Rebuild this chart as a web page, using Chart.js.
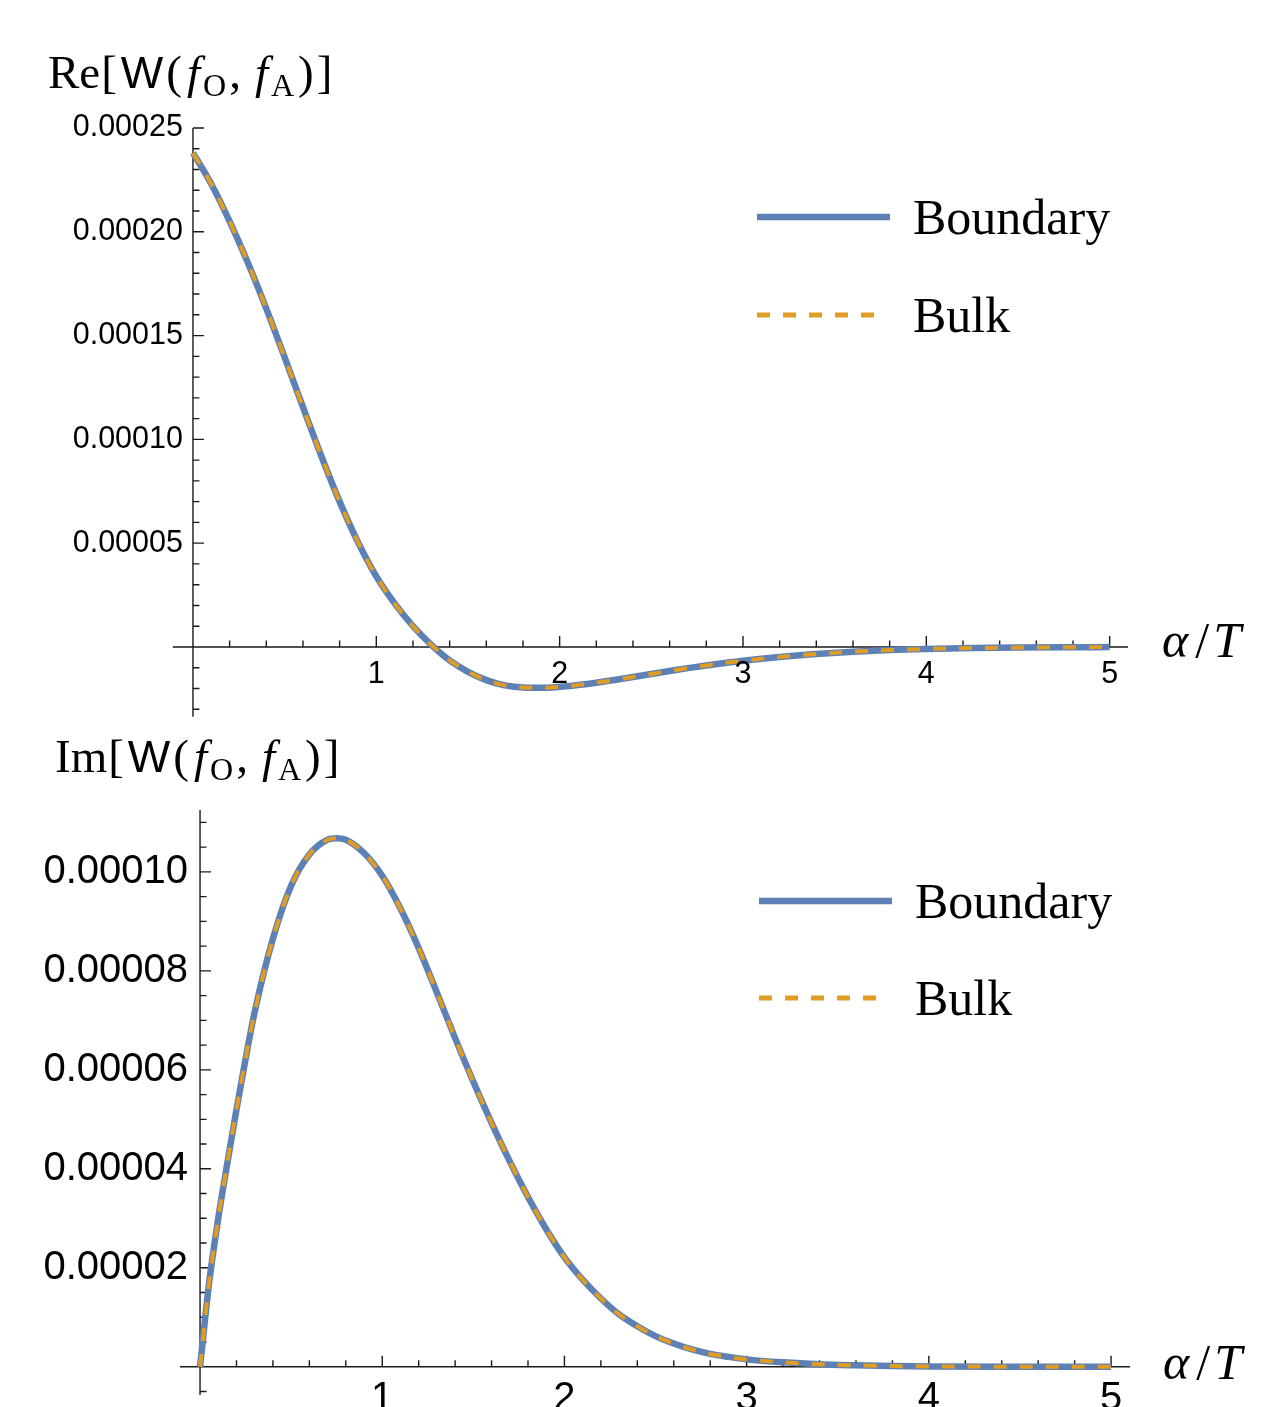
<!DOCTYPE html>
<html>
<head>
<meta charset="utf-8">
<title>Re / Im W(fO, fA)</title>
<script src="https://cdn.jsdelivr.net/npm/chart.js@4.4.1/dist/chart.umd.min.js"></script>
<style>
  html, body { margin: 0; padding: 0; background: #fff; }
  body { width: 1267px; height: 1407px; position: relative; overflow: hidden; }
  canvas { position: absolute; left: 0; }
  #reChart { top: 0; }
  #imChart { top: 720px; }
</style>
</head>
<body>
<canvas id="reChart" width="1267" height="730"></canvas>
<canvas id="imChart" width="1267" height="687"></canvas>
<script>
// ---------- data ----------
const reX = [0, 0.1, 0.2, 0.3, 0.4, 0.5, 0.6, 0.7, 0.8, 0.9, 1.0, 1.1, 1.2, 1.3, 1.4, 1.5, 1.6, 1.7, 1.8, 1.9,
             2.0, 2.1, 2.2, 2.3, 2.4, 2.5, 2.6, 2.7, 2.8, 2.9, 3.0, 3.2, 3.4, 3.6, 3.8, 4.0, 4.25, 4.5, 4.75, 5.0];
const reBoundary = [23.8e-5, 22.3e-5, 20.5e-5, 18.5e-5, 16.3e-5, 13.95e-5, 11.55e-5, 9.2e-5, 7.0e-5, 5.05e-5,
                    3.4e-5, 2.1e-5, 1.0e-5, 0.1e-5, -0.65e-5, -1.2e-5, -1.6e-5, -1.85e-5, -1.95e-5, -1.97e-5,
                    -1.92e-5, -1.83e-5, -1.72e-5, -1.59e-5, -1.45e-5, -1.3e-5, -1.16e-5, -1.02e-5, -0.89e-5, -0.77e-5,
                    -0.66e-5, -0.48e-5, -0.34e-5, -0.23e-5, -0.15e-5, -0.1e-5, -0.055e-5, -0.03e-5, -0.015e-5, -0.007e-5];
const reBulk = reBoundary.slice();   // the two curves lie on top of each other

const imX = [0, 0.05, 0.1, 0.15, 0.2, 0.25, 0.3, 0.4, 0.5, 0.6, 0.7, 0.75, 0.8, 0.9, 1.0, 1.1, 1.2, 1.3, 1.4, 1.5,
             1.6, 1.7, 1.8, 1.9, 2.0, 2.1, 2.2, 2.3, 2.4, 2.5, 2.6, 2.7, 2.8, 2.9, 3.0, 3.2, 3.4, 3.6, 3.8, 4.0, 4.5, 5.0];
const imBoundary = [0, 1.7e-5, 3.0e-5, 4.12e-5, 5.2e-5, 6.22e-5, 7.17e-5, 8.65e-5, 9.72e-5, 10.35e-5, 10.65e-5, 10.68e-5,
                    10.65e-5, 10.38e-5, 9.92e-5, 9.26e-5, 8.46e-5, 7.56e-5, 6.64e-5, 5.76e-5,
                    4.93e-5, 4.15e-5, 3.43e-5, 2.78e-5, 2.21e-5, 1.76e-5, 1.38e-5, 1.06e-5, 0.82e-5, 0.62e-5,
                    0.47e-5, 0.35e-5, 0.26e-5, 0.2e-5, 0.15e-5, 0.09e-5, 0.05e-5, 0.03e-5, 0.016e-5, 0.008e-5, 0.002e-5, 0];
const imBulk = imBoundary.slice();

const seriesNames = ["Boundary", "Bulk"];
const xTicks = [1, 2, 3, 4, 5];
const reYTicks = [0.00005, 0.0001, 0.00015, 0.0002, 0.00025];
const reYTickLabels = ["0.00005", "0.00010", "0.00015", "0.00020", "0.00025"];
const imYTicks = [0.00002, 0.00004, 0.00006, 0.00008, 0.0001];
const imYTickLabels = ["0.00002", "0.00004", "0.00006", "0.00008", "0.00010"];

// ---------- look ----------
const BLUE = "#5e81b5";
const ORANGE = "#e19c24";
const SERIF = '"Liberation Serif", "DejaVu Serif", serif';
const SANS = '"Liberation Sans", Arial, sans-serif';

function drawRich(ctx, x, y, parts) {
  for (const p of parts) {
    ctx.font = p.font;
    ctx.fillText(p.t, x, y + (p.dy || 0));
    x += ctx.measureText(p.t).width + (p.kern || 0);
  }
}

function titleParts(prefix, s) {
  const sub = Math.round(s * 0.68);
  return [
    { t: prefix, font: `${s}px ${SERIF}`, kern: 1 },
    { t: "[", font: `${s}px ${SERIF}`, kern: 4 },
    { t: "W", font: `${s - 2}px ${SANS}`, kern: 3 },
    { t: "(", font: `${s}px ${SERIF}`, kern: 5 },
    { t: "f", font: `italic ${s}px ${SERIF}`, kern: 3 },
    { t: "O", font: `${sub}px ${SERIF}`, dy: 8, kern: 3 },
    { t: ",", font: `${s}px ${SERIF}`, kern: 14 },
    { t: "f", font: `italic ${s}px ${SERIF}`, kern: 3 },
    { t: "A", font: `${sub}px ${SERIF}`, dy: 8, kern: 4 },
    { t: ")", font: `${s}px ${SERIF}`, kern: 3 },
    { t: "]", font: `${s}px ${SERIF}` }
  ];
}

// Mathematica style axes: cross at the origin, ticks point inward
const mmaAxes = {
  id: "mmaAxes",
  beforeDatasetsDraw(chart, args, o) {
    const { ctx, chartArea } = chart;
    const xs = chart.scales.x, ys = chart.scales.y;
    const x0 = xs.getPixelForValue(0), y0 = ys.getPixelForValue(0);
    ctx.save();
    ctx.strokeStyle = "#1a1a1a";
    ctx.lineWidth = 1.4;
    ctx.beginPath();
    ctx.moveTo(chartArea.left, y0); ctx.lineTo(chartArea.right, y0);
    ctx.moveTo(x0, chartArea.top); ctx.lineTo(x0, chartArea.bottom);
    // x ticks, minor every 0.2
    for (let i = 1; i <= 25; i++) {
      const px = xs.getPixelForValue(i * 0.2);
      ctx.moveTo(px, y0);
      ctx.lineTo(px, y0 - (i % 5 === 0 ? o.majorLen : o.minorLen));
    }
    // y ticks
    for (let i = -10; i <= 40; i++) {
      const v = i * o.yMinor;
      if (i === 0 || v < ys.min || v > ys.max + 1e-12) continue;
      const py = ys.getPixelForValue(v);
      ctx.moveTo(x0, py);
      ctx.lineTo(x0 + (i % o.yPerMajor === 0 ? o.majorLen : o.minorLen), py);
    }
    ctx.stroke();
    ctx.restore();
  },
  afterDraw(chart, args, o) {
    const { ctx } = chart;
    const xs = chart.scales.x, ys = chart.scales.y;
    const x0 = xs.getPixelForValue(0), y0 = ys.getPixelForValue(0);
    ctx.save();
    ctx.fillStyle = "#000";
    // tick labels
    ctx.font = `${o.tickFont}px ${SANS}`;
    ctx.textAlign = "right";
    ctx.textBaseline = "middle";
    o.yTicks.forEach((v, i) => ctx.fillText(o.yLabels[i], x0 - o.yLabelGap, ys.getPixelForValue(v)));
    ctx.textAlign = "center";
    xTicks.forEach(v => ctx.fillText(String(v), xs.getPixelForValue(v), y0 + o.xLabelGap));
    // axis labels
    ctx.textAlign = "left";
    ctx.textBaseline = "alphabetic";
    drawRich(ctx, o.title.x, o.title.y, titleParts(o.title.prefix, 47));
    drawRich(ctx, o.xTitle.x, o.xTitle.y, [
      { t: "\u03b1", font: `italic 50px ${SERIF}`, kern: 7 },
      { t: "/", font: `50px ${SERIF}`, kern: 4 },
      { t: "T", font: `italic 50px ${SERIF}` }
    ]);
    // legend
    const lg = o.legend;
    chart.data.datasets.forEach((ds, i) => {
      const y = lg.y[i];
      ctx.save();
      ctx.strokeStyle = ds.borderColor;
      ctx.lineWidth = i === 0 ? 6.5 : 5;
      ctx.setLineDash(ds.borderDash || []);
      ctx.beginPath();
      ctx.moveTo(lg.x1, y);
      ctx.lineTo(i === 0 ? lg.x2 : lg.x2 - 8, y);
      ctx.stroke();
      ctx.restore();
      ctx.font = `50px ${SERIF}`;
      ctx.fillText(ds.label, lg.textX, y + 17);
    });
    ctx.restore();
  }
};

function makeChart(id, xsData, boundary, bulk, yMin, yMax, xMin, xMax, padding, plugOpts) {
  const toPts = arr => arr.map((v, i) => ({ x: xsData[i], y: v }));
  return new Chart(document.getElementById(id), {
    type: "line",
    data: {
      datasets: [
        { label: seriesNames[0], data: toPts(boundary), borderColor: BLUE, borderWidth: 6.5,
          pointRadius: 0, cubicInterpolationMode: "monotone", order: 2 },
        { label: seriesNames[1], data: toPts(bulk), borderColor: ORANGE, borderWidth: 4,
          borderDash: [13, 13], pointRadius: 0, cubicInterpolationMode: "monotone", order: 1 }
      ]
    },
    options: {
      responsive: false,
      animation: false,
      devicePixelRatio: 1,
      layout: { padding },
      scales: {
        x: { type: "linear", min: xMin, max: xMax, display: false },
        y: { type: "linear", min: yMin, max: yMax, display: false }
      },
      plugins: { legend: { display: false }, tooltip: { enabled: false }, mmaAxes: plugOpts }
    },
    plugins: [mmaAxes]
  });
}

makeChart("reChart", reX, reBoundary, reBulk, -0.0000336, 0.00025, -0.11, 5.1,
  { left: 172.8, right: 139, top: 128, bottom: 13.3 },
  { majorLen: 11, minorLen: 6.5, yMinor: 0.00001, yPerMajor: 5,
    tickFont: 30.5, yTicks: reYTicks, yLabels: reYTickLabels, yLabelGap: 10, xLabelGap: 28,
    title: { prefix: "Re", x: 48, y: 88 }, xTitle: { x: 1162, y: 657 },
    legend: { x1: 757, x2: 890, y: [217, 315], textX: 913 } });

makeChart("imChart", imX, imBoundary, imBulk, -0.0000057, 0.0001125, -0.11, 5.104,
  { left: 180, right: 137, top: 90, bottom: 12 },
  { majorLen: 11, minorLen: 6.5, yMinor: 0.000005, yPerMajor: 4,
    tickFont: 40, yTicks: imYTicks, yLabels: imYTickLabels, yLabelGap: 12, xLabelGap: 32,
    title: { prefix: "Im", x: 55, y: 52 }, xTitle: { x: 1163, y: 659 },
    legend: { x1: 759, x2: 892, y: [181, 278], textX: 915 } });
</script>
</body>
</html>
